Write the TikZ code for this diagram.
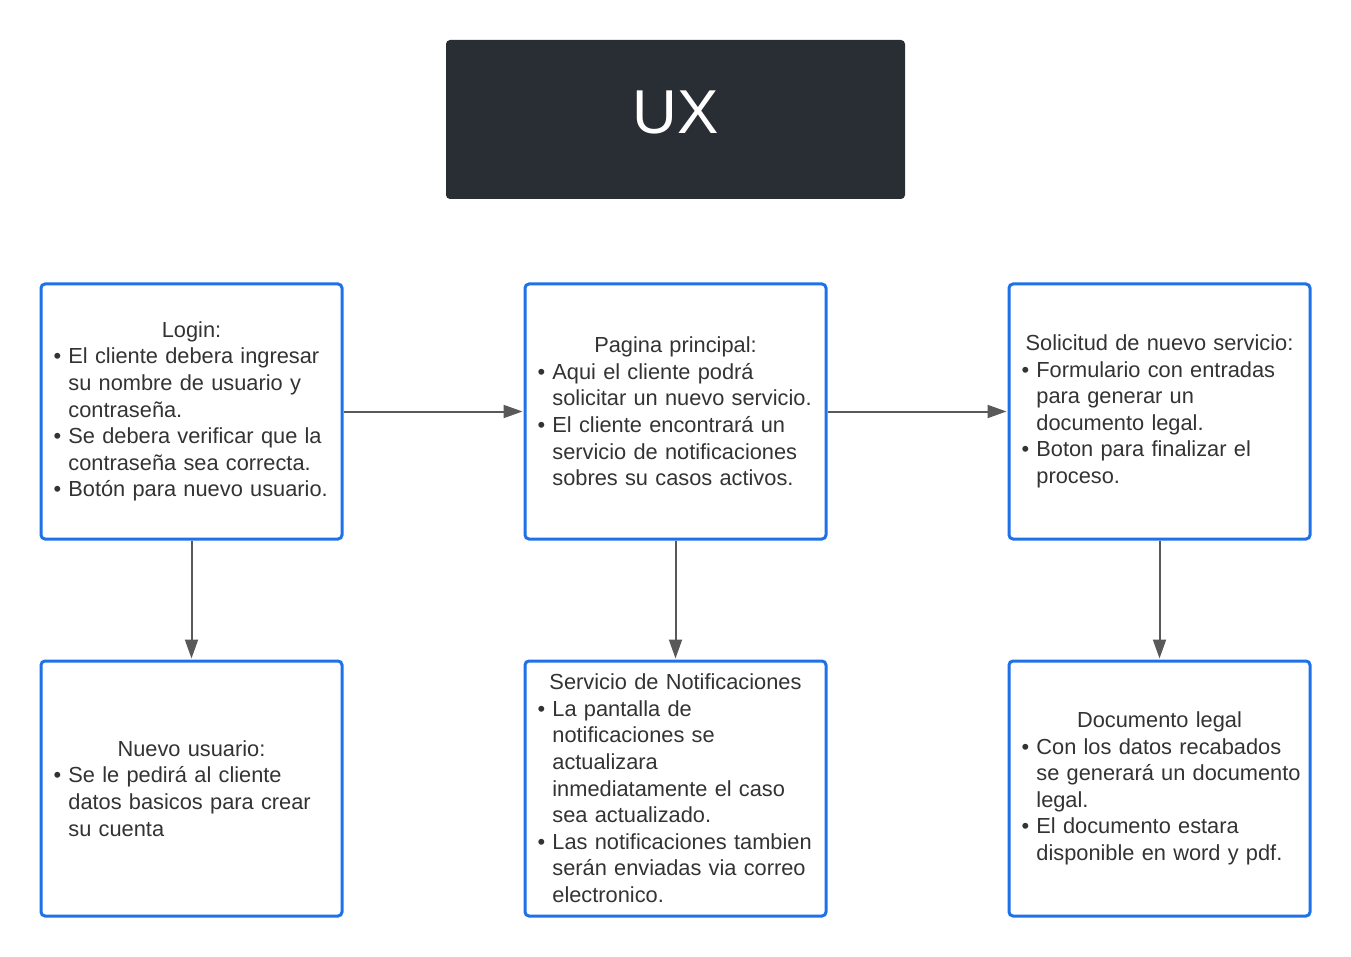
\documentclass[tikz,border=0pt]{standalone}
\usepackage{fontspec}
\setmainfont{Liberation Sans}
\usetikzlibrary{arrows.meta}
\definecolor{boxblue}{RGB}{30,113,230}
\definecolor{txt}{RGB}{51,51,51}
\definecolor{dark}{RGB}{41,45,52}
\definecolor{arr}{RGB}{89,89,89}
\newcommand\ttl[1]{\par\noindent\hbox to\linewidth{\hfil#1\hfil}}
\newcommand\itm[1]{\par\noindent\hbox{\textbullet\ #1}}
\newcommand\cnt[1]{\par\noindent\hbox{\hphantom{\textbullet\ }#1}}
\tikzset{
  card/.style={draw=boxblue, line width=3pt, rounded corners=4pt, fill=white,
    minimum width=301pt, minimum height=255pt, inner xsep=12.5pt, inner ysep=0pt,
    text width=276pt, align=left, text=txt,
    font=\fontsize{21.8}{26.6}\selectfont,
    execute at end node={\par\vspace*{11pt}}},
  conn/.style={draw=arr, line width=2pt, -{Triangle[length=19pt,width=13pt]}, shorten >=1pt},
}
\begin{document}
\begin{tikzpicture}[x=1pt,y=-1pt]
\useasboundingbox (0,0) rectangle (1351,957);
\node[fill=dark, rounded corners=4pt, minimum width=459pt, minimum height=159pt,
  text=white, font=\fontsize{62}{70}\selectfont, text height=44.5pt, text depth=16pt]
  (ux) at (675.5,119.5) {UX};

\node[card] (login) at (191.5,411.5) {%
\ttl{Login:}
\itm{El cliente debera ingresar}
\cnt{su nombre de usuario y}
\cnt{contraseña.}
\itm{Se debera verificar que la}
\cnt{contraseña sea correcta.}
\itm{Botón para nuevo usuario.}};

\node[card] (pagina) at (675.5,411.5) {%
\ttl{Pagina principal:}
\itm{Aqui el cliente podrá}
\cnt{solicitar un nuevo servicio.}
\itm{El cliente encontrará un}
\cnt{servicio de notificaciones}
\cnt{sobres su casos activos.}};

\node[card] (solicitud) at (1159.5,411.5) {%
\ttl{Solicitud de nuevo servicio:}
\itm{Formulario con entradas}
\cnt{para generar un}
\cnt{documento legal.}
\itm{Boton para finalizar el}
\cnt{proceso.}};

\node[card] (nuevo) at (191.5,788.5) {%
\ttl{Nuevo usuario:}
\itm{Se le pedirá al cliente}
\cnt{datos basicos para crear}
\cnt{su cuenta}};

\node[card] (servicio) at (675.5,788.5) {%
\ttl{Servicio de Notificaciones}
\itm{La pantalla de}
\cnt{notificaciones se}
\cnt{actualizara}
\cnt{inmediatamente el caso}
\cnt{sea actualizado.}
\itm{Las notificaciones tambien}
\cnt{serán enviadas via correo}
\cnt{electronico.}};

\node[card] (documento) at (1159.5,788.5) {%
\ttl{Documento legal}
\itm{Con los datos recabados}
\cnt{se generará un documento}
\cnt{legal.}
\itm{El documento estara}
\cnt{disponible en word y pdf.}};

\draw[conn] (login.east) -- (pagina.west);
\draw[conn] (pagina.east) -- (solicitud.west);
\draw[conn] (login.south) -- (nuevo.north);
\draw[conn] (pagina.south) -- (servicio.north);
\draw[conn] (solicitud.south) -- (documento.north);
\end{tikzpicture}
\end{document}
